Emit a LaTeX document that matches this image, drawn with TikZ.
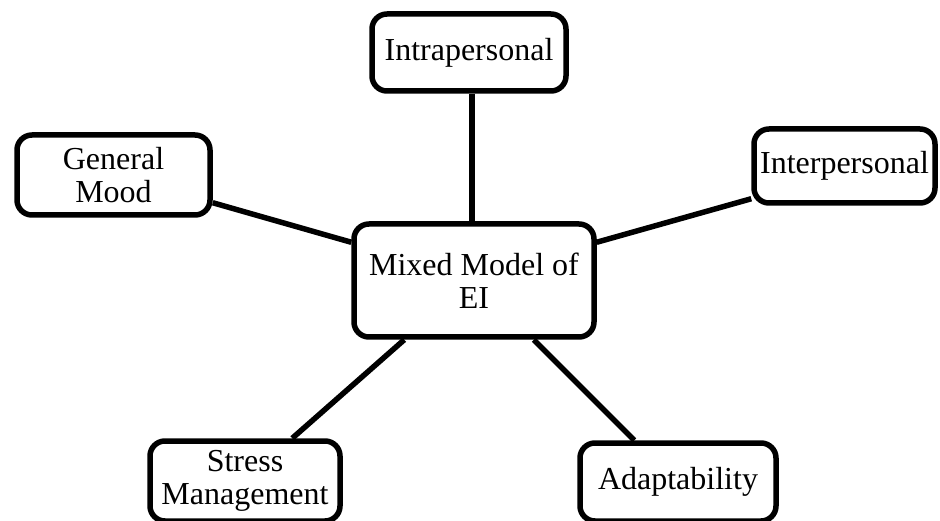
\documentclass[tikz,border=0pt]{standalone}
\usepackage{fontspec}
\setmainfont{Liberation Serif}
\begin{document}
\begin{tikzpicture}[x=1pt,y=-1pt,
  box/.style={draw=black, line width=5.5pt, rounded corners=15pt, fill=white,
    align=center, inner sep=0pt, font=\fontsize{32}{33}\selectfont},
  link/.style={draw=black, line width=5.5pt}]
\useasboundingbox (0,0) rectangle (940,521);
\fill[white] (0,0) rectangle (940,521);

% central concept and its five components
\node[box, minimum width=240pt, minimum height=113pt] (c) at (474,280.5) {Mixed Model of\\EI};
\node[box, minimum width=194pt, minimum height=77pt] (intra) at (469,52.5) {Intrapersonal};
\node[box, minimum width=193pt, minimum height=80pt] (gm) at (113.5,175) {General\\Mood};
\node[box, minimum width=181pt, minimum height=74pt] (inter) at (844.5,166) {Interpersonal};
\node[box, minimum width=190pt, minimum height=80pt] (st) at (245,481) {Stress\\Management};
\node[box, minimum width=196pt, minimum height=78pt] (ad) at (678,482) {Adaptability};

% spokes from the centre
\draw[link] ([xshift=3pt]intra.south) -- ([xshift=3pt]intra.south |- c.north);
\draw[link] ([yshift=15pt]gm.south east) -- ([yshift=-21pt]c.north west);
\draw[link] ([yshift=-21pt]c.north east) -- ([yshift=7pt]inter.south west);
\draw[link] ([xshift=53pt]c.south west) -- ([xshift=145pt]st.north west);
\draw[link] ([xshift=-63pt]c.south east) -- ([xshift=57pt]ad.north west);
\end{tikzpicture}
\end{document}
